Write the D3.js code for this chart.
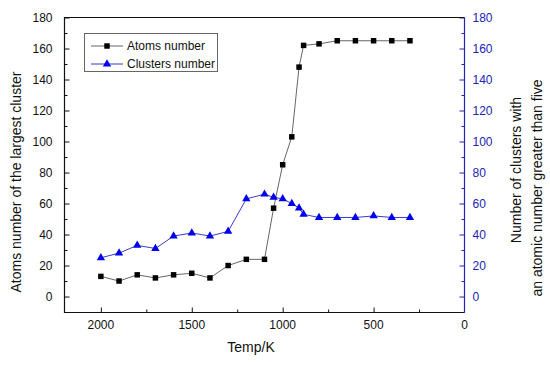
<!DOCTYPE html>
<html>
<head>
<meta charset="utf-8">
<script src="https://cdn.jsdelivr.net/npm/d3@7"></script>
<style>
  body { margin: 0; background: #fff; }
  text { font-family: "Liberation Sans", Arial, sans-serif; }
</style>
</head>
<body>
<div id="chart"></div>
<script>
var temps = [2000, 1900, 1800, 1700, 1600, 1500, 1400, 1300, 1200, 1100, 1050, 1000, 950, 910, 885, 800, 700, 600, 500, 400, 300];
var atoms = [13, 10, 14, 12, 14, 15, 12, 20, 24, 24, 57, 85, 103, 148, 162, 163, 165, 165, 165, 165, 165];
var clusters = [25, 28, 33, 31, 39, 41, 39, 42, 63, 66, 64, 63, 60, 57, 53, 51, 51, 51, 52, 51, 51];
var xTicks = [2000, 1500, 1000, 500, 0];
var yTicks = [0, 20, 40, 60, 80, 100, 120, 140, 160, 180];
var seriesNames = ['Atoms number', 'Clusters number'];

var width = 550, height = 365;
var pLeft = 64.5, pRight = 464.5, pTop = 17.5, pBottom = 312.5;
var blue = '#2323b4';

var svg = d3.select('#chart').append('svg')
  .attr('width', width)
  .attr('height', height);

var x = d3.scaleLinear().domain([2200, 0]).range([pLeft, pRight]);
var y = d3.scaleLinear().domain([-10.3, 180]).range([pBottom, pTop]);

// bottom axis, ticks pointing inward
var xAxis = svg.append('g').attr('transform', 'translate(0,' + pBottom + ')');
xAxis.call(d3.axisBottom(x).tickValues(d3.range(250, 2201, 250)).tickSize(-3).tickFormat(''));
xAxis.selectAll('.tick').filter(d => d % 500 === 0).select('line').attr('y2', -5);
xAxis.selectAll('.tick text').remove();
xAxis.select('.domain').remove();
xAxis.selectAll('line').attr('stroke', '#111');
xTicks.forEach(function(t) {
  xAxis.append('text').attr('x', x(t)).attr('y', 16)
    .attr('text-anchor', 'middle').attr('font-size', 12).attr('fill', '#111').text(t);
});

// left axis
var yAxis = svg.append('g').attr('transform', 'translate(' + pLeft + ',0)');
yAxis.call(d3.axisLeft(y).tickValues(d3.range(-10, 181, 10)).tickSize(-3).tickFormat(''));
yAxis.selectAll('.tick').filter(d => d % 20 === 0).select('line').attr('x2', 5);
yAxis.selectAll('.tick text').remove();
yAxis.select('.domain').remove();
yAxis.selectAll('line').attr('stroke', '#111');
yTicks.forEach(function(t) {
  yAxis.append('text').attr('x', -12).attr('y', y(t)).attr('dy', '0.35em')
    .attr('text-anchor', 'end').attr('font-size', 12).attr('fill', '#111').text(t);
});

// right axis in blue
var y2Axis = svg.append('g').attr('transform', 'translate(' + pRight + ',0)');
y2Axis.call(d3.axisRight(y).tickValues(d3.range(-10, 181, 10)).tickSize(-3).tickFormat(''));
y2Axis.selectAll('.tick').filter(d => d % 20 === 0).select('line').attr('x2', -5);
y2Axis.selectAll('.tick text').remove();
y2Axis.select('.domain').remove();
y2Axis.selectAll('line').attr('stroke', blue);
yTicks.forEach(function(t) {
  y2Axis.append('text').attr('x', 8).attr('y', y(t)).attr('dy', '0.35em')
    .attr('text-anchor', 'start').attr('font-size', 12).attr('fill', blue).text(t);
});

// frame
svg.append('path')
  .attr('d', 'M' + pRight + ',' + pTop + 'H' + pLeft + 'V' + pBottom + 'H' + pRight)
  .attr('fill', 'none').attr('stroke', '#111').attr('stroke-width', 1.2);
svg.append('line')
  .attr('x1', pRight).attr('x2', pRight).attr('y1', pTop).attr('y2', pBottom)
  .attr('stroke', blue).attr('stroke-width', 1.2);

// series
var lineA = d3.line().x((d, i) => x(temps[i])).y(d => y(d));

svg.append('path').datum(clusters).attr('d', lineA)
  .attr('fill', 'none').attr('stroke', '#3a3ac8').attr('stroke-width', 1);
svg.append('path').datum(atoms).attr('d', lineA)
  .attr('fill', 'none').attr('stroke', '#666').attr('stroke-width', 1);

var tri = d3.symbol().type(d3.symbolTriangle).size(30);
var sq = d3.symbol().type(d3.symbolSquare).size(30);

svg.append('g').selectAll('path')
  .data(clusters).enter().append('path')
  .attr('d', tri)
  .attr('transform', (d, i) => 'translate(' + x(temps[i]) + ',' + y(d) + ')')
  .attr('fill', '#0000ee');

svg.append('g').selectAll('path')
  .data(atoms).enter().append('path')
  .attr('d', sq)
  .attr('transform', (d, i) => 'translate(' + x(temps[i]) + ',' + y(d) + ')')
  .attr('fill', '#000');

// legend
var lg = svg.append('g');
lg.append('rect').attr('x', 84.5).attr('y', 33.5).attr('width', 133).attr('height', 38)
  .attr('fill', '#fff').attr('stroke', '#666');
[0, 1].forEach(function(i) {
  var ly = 46 + i * 18;
  lg.append('line').attr('x1', 91).attr('x2', 123).attr('y1', ly).attr('y2', ly)
    .attr('stroke', i ? '#3a3ac8' : '#666');
  lg.append('path').attr('d', i ? tri : sq)
    .attr('transform', 'translate(107,' + ly + ')')
    .attr('fill', i ? '#0000ee' : '#000');
  lg.append('text').attr('x', 127).attr('y', ly).attr('dy', '0.35em')
    .attr('font-size', 12).attr('fill', '#111').text(seriesNames[i]);
});

// titles
svg.append('text').attr('x', 251).attr('y', 352)
  .attr('text-anchor', 'middle').attr('font-size', 14).attr('fill', '#111').text('Temp/K');
svg.append('text').attr('transform', 'translate(21,182) rotate(-90)')
  .attr('text-anchor', 'middle').attr('font-size', 14).attr('fill', '#111')
  .text('Atoms number of the largest cluster');
svg.append('text').attr('transform', 'translate(521,170) rotate(-90)')
  .attr('text-anchor', 'middle').attr('font-size', 14).attr('fill', '#111')
  .text('Number of clusters with');
svg.append('text').attr('transform', 'translate(542,188) rotate(-90)')
  .attr('text-anchor', 'middle').attr('font-size', 14).attr('fill', '#111')
  .text('an atomic number greater than five');
</script>
</body>
</html>
